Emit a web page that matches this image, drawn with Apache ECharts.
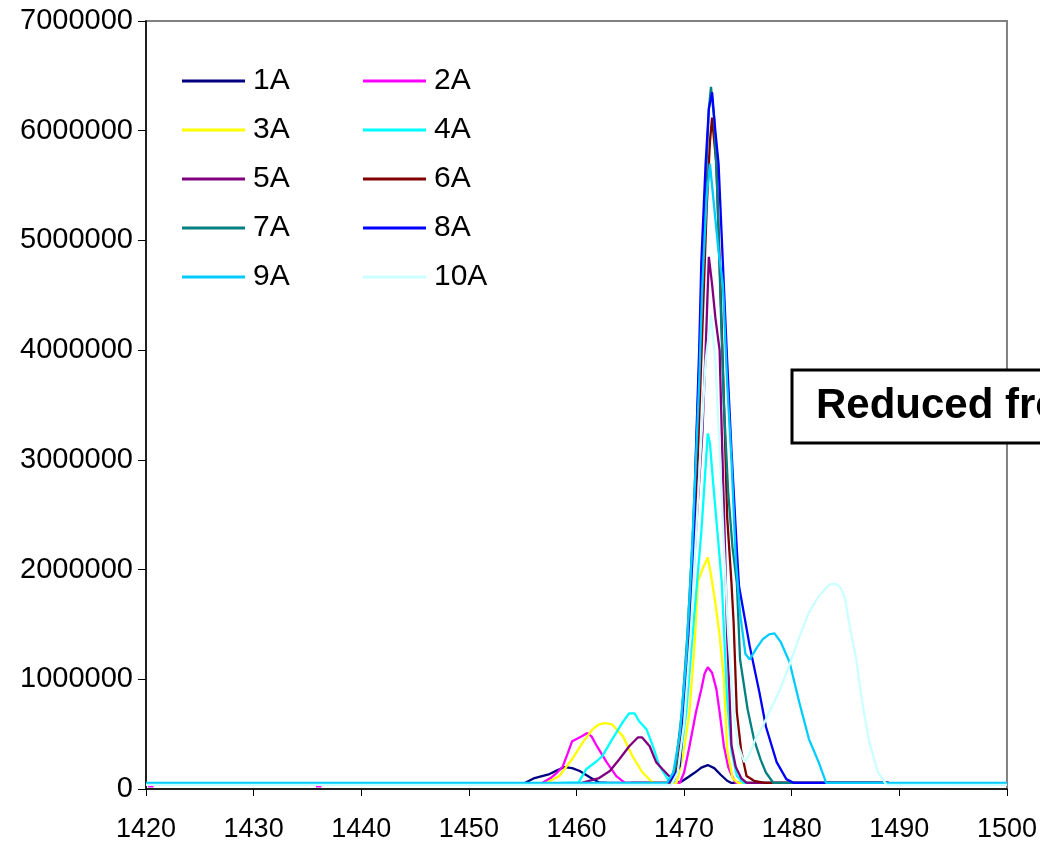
<!DOCTYPE html>
<html>
<head>
<meta charset="utf-8">
<script src="https://cdn.jsdelivr.net/npm/echarts@6/dist/echarts.min.js"></script>
<style>
  html, body { margin: 0; padding: 0; background: #ffffff; }
  #chart { width: 1040px; height: 843px; }
</style>
</head>
<body>
<div id="chart"></div>
<script>
// Ion chromatogram traces: [m/z-like position, intensity]
const BREAK = '-';

const s1A = [[1455.2, 55000], [1456.1, 100000], [1457.5, 136000], [1458.2, 170000], [1458.9, 200000],
  [1459.6, 190000], [1460.3, 164000], [1461.2, 109000], [1462.1, 60000], [1463.0, 55000],
  [1469.3, 55000], [1469.8, 70000], [1470.4, 110000], [1471.0, 150000], [1471.6, 195000],
  [1472.2, 218000], [1472.8, 190000], [1473.4, 130000], [1474.0, 75000], [1474.4, 55000], [1489.0, 55000]];

const s2A = [[1420.2, 25000], [1420.7, 25000], [1420.8, BREAK], [1435.8, 25000], [1436.3, 25000], [1436.4, BREAK],
  [1456.8, 55000], [1457.6, 100000], [1458.2, 150000], [1458.7, 200000], [1459.2, 330000],
  [1459.6, 436000], [1460.5, 480000], [1461.0, 510000], [1461.4, 480000], [1461.9, 390000],
  [1462.8, 245000], [1463.7, 118000], [1464.5, 55000], [1469.6, 55000], [1470.0, 150000],
  [1470.5, 390000], [1471.1, 700000], [1471.6, 910000], [1471.9, 1050000], [1472.2, 1110000],
  [1472.6, 1060000], [1473.0, 910000], [1473.3, 700000], [1473.7, 390000], [1474.1, 200000],
  [1474.4, 130000], [1474.8, 55000], [1489.0, 55000]];

const s3A = [[1457.2, 55000], [1458.4, 118000], [1459.6, 273000], [1460.6, 427000], [1461.5, 545000],
  [1462.1, 590000], [1462.7, 600000], [1463.3, 590000], [1464.3, 482000], [1465.2, 300000],
  [1466.1, 155000], [1467.1, 55000], [1469.3, 55000], [1469.9, 300000], [1470.5, 700000],
  [1471.0, 1360000], [1471.3, 1900000], [1471.7, 2000000], [1472.2, 2110000], [1472.5, 1950000],
  [1472.9, 1700000], [1473.3, 1400000], [1473.7, 1000000], [1474.0, 360000], [1474.5, 100000],
  [1475.0, 55000], [1489.0, 55000]];

const s4A = [[1458.6, 55000], [1460.2, 60000], [1460.9, 180000], [1461.9, 255000], [1462.4, 300000],
  [1463.3, 450000], [1464.3, 610000], [1464.9, 690000], [1465.4, 690000], [1465.8, 620000],
  [1466.5, 545000], [1467.1, 390000], [1467.7, 210000], [1468.2, 136000], [1468.6, 70000],
  [1469.0, 60000], [1469.6, 250000], [1470.2, 700000], [1470.7, 1300000], [1471.2, 1880000],
  [1471.6, 2340000], [1471.9, 2790000], [1472.2, 3240000], [1472.4, 3150000], [1472.7, 2790000],
  [1473.1, 2340000], [1473.5, 1880000], [1474.0, 820000], [1474.4, 350000], [1474.9, 120000],
  [1475.5, 55000], [1489.0, 55000]];

const s5A = [[1460.5, 55000], [1462.1, 100000], [1463.1, 164000], [1464.0, 273000], [1464.9, 390000],
  [1465.7, 470000], [1466.1, 470000], [1466.8, 390000], [1467.4, 245000], [1468.0, 180000],
  [1468.6, 118000], [1469.1, 90000], [1469.6, 300000], [1470.2, 900000], [1470.7, 1700000],
  [1471.2, 2500000], [1471.7, 3250000], [1472.0, 4000000], [1472.3, 4850000], [1472.6, 4600000],
  [1472.9, 4300000], [1473.3, 4000000], [1473.5, 3250000], [1473.8, 2200000], [1474.0, 1400000],
  [1474.2, 900000], [1474.4, 400000], [1474.8, 200000], [1475.3, 100000], [1475.8, 55000], [1489.0, 55000]];

const s6A = [[1465.1, 55000], [1468.8, 55000], [1469.4, 200000], [1470.0, 700000], [1470.5, 1400000],
  [1470.9, 2200000], [1471.3, 3100000], [1471.7, 4200000], [1472.1, 5300000], [1472.4, 5900000],
  [1472.6, 6120000], [1472.8, 5900000], [1473.0, 5700000], [1473.2, 5100000], [1473.5, 4200000],
  [1473.8, 3200000], [1474.0, 2480000], [1474.4, 1880000], [1474.6, 1520000], [1474.9, 700000],
  [1475.3, 350000], [1475.8, 118000], [1476.5, 75000], [1477.5, 55000], [1489.0, 55000]];

const s7A = [[1468.6, 55000], [1469.2, 200000], [1469.8, 700000], [1470.3, 1400000], [1470.8, 2300000],
  [1471.2, 3300000], [1471.6, 4400000], [1472.0, 5500000], [1472.3, 6200000], [1472.5, 6400000],
  [1472.8, 6100000], [1473.1, 5400000], [1473.4, 4400000], [1473.7, 3500000], [1474.1, 2700000],
  [1474.5, 2200000], [1474.9, 1880000], [1475.2, 1180000], [1475.9, 727000], [1476.5, 450000],
  [1477.1, 270000], [1477.6, 150000], [1478.3, 55000], [1489.0, 55000]];

const s8A = [[1468.5, 55000], [1469.3, 150000], [1469.6, 210000], [1470.0, 700000], [1470.5, 1300000],
  [1470.8, 1900000], [1470.9, 2180000], [1471.1, 3090000], [1471.4, 4000000], [1471.6, 4800000],
  [1472.0, 5700000], [1472.3, 6200000], [1472.6, 6350000], [1472.9, 6000000], [1473.2, 5700000],
  [1473.6, 4800000], [1474.0, 3900000], [1474.4, 3090000], [1474.9, 2180000], [1475.1, 1850000],
  [1476.1, 1300000], [1477.0, 880000], [1477.6, 570000], [1478.6, 245000], [1479.5, 90000],
  [1480.2, 55000], [1489.0, 55000]];

const s9A = [[1420.0, 55000], [1468.4, 55000], [1469.0, 150000], [1469.6, 500000], [1470.2, 1200000],
  [1470.7, 2100000], [1471.1, 3000000], [1471.4, 3700000], [1471.7, 4600000], [1472.1, 5400000],
  [1472.4, 5700000], [1472.8, 5300000], [1473.2, 4900000], [1473.6, 4600000], [1474.0, 3700000],
  [1474.4, 3000000], [1474.8, 2100000], [1475.2, 1600000], [1475.7, 1230000], [1476.1, 1180000],
  [1476.7, 1280000], [1477.3, 1364000], [1477.9, 1410000], [1478.4, 1418000], [1479.0, 1336000],
  [1479.8, 1155000], [1480.7, 790000], [1481.6, 455000], [1482.5, 245000], [1483.2, 55000], [1500.0, 55000]];

const s10A = [[1420.0, 38000], [1468.8, 38000], [1469.4, 150000], [1470.0, 600000], [1470.6, 1400000],
  [1471.1, 2300000], [1471.6, 3200000], [1472.0, 3900000], [1472.5, 4320000], [1472.9, 3900000],
  [1473.3, 3100000], [1473.7, 2200000], [1474.1, 1400000], [1474.6, 700000], [1475.0, 400000],
  [1475.6, 245000], [1476.0, 300000], [1476.6, 450000], [1477.3, 570000], [1478.0, 720000],
  [1478.8, 880000], [1479.6, 1080000], [1480.4, 1300000], [1481.0, 1460000], [1481.6, 1610000],
  [1482.5, 1755000], [1483.5, 1864000], [1484.1, 1870000], [1484.5, 1840000], [1484.9, 1755000],
  [1485.4, 1480000], [1486.0, 1180000], [1486.5, 818000], [1487.2, 427000], [1488.0, 155000],
  [1488.8, 40000], [1500.0, 38000]];

const seriesNames = ['1A', '2A', '3A', '4A', '5A', '6A', '7A', '8A', '9A', '10A'];
const seriesData = [s1A, s2A, s3A, s4A, s5A, s6A, s7A, s8A, s9A, s10A];
const seriesColors = ['#000080', '#FF00FF', '#FFFF00', '#00FFFF', '#800080',
                      '#800000', '#008080', '#0000FF', '#00CCFF', '#CCFFFF'];

const xTicks = { min: 1420, max: 1500, step: 10 };
const yTicks = { min: 0, max: 7000000, step: 1000000 };
const boxLabel = 'Reduced from';

const FONT = 'Arial, "Liberation Sans", sans-serif';

const chart = echarts.init(document.getElementById('chart'), null, { renderer: 'canvas' });

const series = seriesNames.map((name, i) => ({
  name: name,
  type: 'line',
  data: seriesData[i],
  showSymbol: false,
  symbol: 'none',
  connectNulls: false,
  lineStyle: { color: seriesColors[i], width: 2.3 },
  itemStyle: { color: seriesColors[i] },
  emphasis: { disabled: true },
  z: 2 + i
}));

function legendColumn(names, left) {
  return {
    orient: 'vertical',
    left: left,
    top: 66,
    padding: 0,
    data: names.map(n => ({ name: n, icon: 'rect' })),
    itemWidth: 63,
    itemHeight: 3,
    itemGap: 19,
    selectedMode: false,
    textStyle: { fontFamily: FONT, fontSize: 30, color: '#000', lineHeight: 30, padding: [0, 0, 0, 3] }
  };
}

chart.setOption({
  animation: false,
  backgroundColor: '#ffffff',
  grid: {
    left: 146, right: 32, top: 21, bottom: 53,
    show: true, borderColor: '#808080', borderWidth: 2, backgroundColor: 'transparent'
  },
  legend: [
    legendColumn(seriesNames.filter((_, i) => i % 2 === 0), 182),
    legendColumn(seriesNames.filter((_, i) => i % 2 === 1), 363)
  ],
  xAxis: {
    type: 'value',
    min: xTicks.min, max: xTicks.max, interval: xTicks.step,
    axisLine: { show: true, onZero: false, lineStyle: { color: '#000', width: 1.5 } },
    axisTick: { show: true, length: 7, lineStyle: { color: '#000' } },
    splitLine: { show: false },
    axisLabel: { fontFamily: FONT, fontSize: 27, color: '#000', margin: 27, formatter: v => String(v) }
  },
  yAxis: {
    type: 'value',
    min: yTicks.min, max: yTicks.max, interval: yTicks.step,
    axisLine: { show: true, lineStyle: { color: '#000', width: 1.5 } },
    axisTick: { show: true, length: 8, lineStyle: { color: '#000' } },
    splitLine: { show: false },
    axisLabel: { fontFamily: FONT, fontSize: 29, color: '#000', margin: 13, formatter: v => String(v) }
  },
  series: series,
  graphic: [
    {
      type: 'rect',
      shape: { x: 792, y: 370, width: 300, height: 73 },
      style: { fill: '#ffffff', stroke: '#000000', lineWidth: 3 },
      z: 100
    },
    {
      type: 'text',
      x: 816, y: 406,
      style: {
        text: boxLabel,
        font: 'bold 42px ' + FONT,
        fill: '#000000',
        verticalAlign: 'middle'
      },
      z: 101
    }
  ]
});
</script>
</body>
</html>
